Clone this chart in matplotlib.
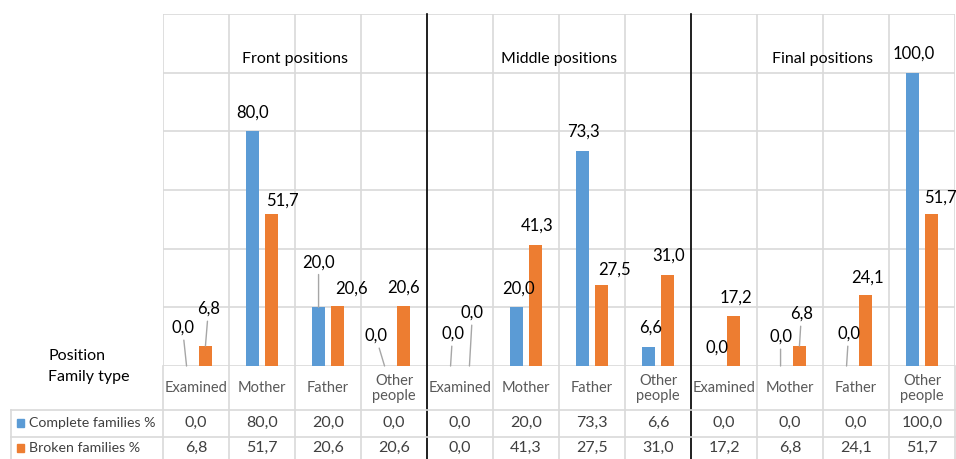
import matplotlib.pyplot as plt
from matplotlib.transforms import blended_transform_factory

plt.rcParams['font.family'] = ['Lato', 'DejaVu Sans']

# data
categories = ['Examined', 'Mother', 'Father', 'Other\npeople'] * 3
groups = ['Front positions', 'Middle positions', 'Final positions']
complete = [0.0, 80.0, 20.0, 0.0, 0.0, 20.0, 73.3, 6.6, 0.0, 0.0, 0.0, 100.0]
broken = [6.8, 51.7, 20.6, 20.6, 0.0, 41.3, 27.5, 31.0, 17.2, 6.8, 24.1, 51.7]
series_names = ['Complete families %', 'Broken families %']

BLUE = '#5B9BD5'
ORANGE = '#ED7D31'
GRID = '#D9D9D9'

# label offsets in pixels (dx, dy up), and whether a leader line is drawn
blue_off = [(-4, 38, True), (0, 19, False), (0, 45, True), (-9, 30, True),
            (2, 32, True), (2, 19, False), (1, 19, False), (2, 19, False),
            (2, 18, False), (0, 29, True), (2, 32, True), (1, 19, False)]
orange_off = [(3, 37, True), (11, 14, False), (14, 17, False), (0, 18, False),
              (3, 53, True), (2, 19, False), (13, 16, False), (1, 19, False),
              (2, 18, False), (2, 32, True), (2, 18, False), (9, 17, False)]

W, H = 956, 459
fig = plt.figure(figsize=(W / 100, H / 100), dpi=100)
ax = fig.add_axes([163 / W, 1 - 366 / H, 792 / W, 352 / H])

n = len(categories)
x = list(range(n))
bw = 0.21
off = 0.143
ax.bar([i - off for i in x], complete, bw, color=BLUE, zorder=3)
ax.bar([i + off for i in x], broken, bw, color=ORANGE, zorder=3)

ax.set_xlim(-0.5, n - 0.5)
ax.set_ylim(0, 120)
ax.set_yticks(range(0, 121, 20))
ax.set_xticks([i - 0.5 for i in range(n + 1)])
ax.grid(True, color=GRID, lw=1.2, zorder=0)
ax.tick_params(length=0, labelbottom=False, labelleft=False)
for s in ax.spines.values():
    s.set_visible(False)

def put_labels(vals, shift, offs):
    for i, v in enumerate(vals):
        dx, dy, lead = offs[i]
        ap = None
        if lead:
            ap = dict(arrowstyle='-', color='#A6A6A6', lw=1, shrinkA=1, shrinkB=0)
        ax.annotate(f'{v:.1f}'.replace('.', ','), (i + shift, v),
                    xytext=(dx, dy), textcoords='offset pixels',
                    ha='center', va='center', fontsize=12, color='#000000',
                    arrowprops=ap, annotation_clip=False, zorder=4)

put_labels(complete, -off, blue_off)
put_labels(broken, off, orange_off)

for g, name in enumerate(groups):
    ax.text(g * 4 + 1.5, 104.5, name, ha='center', va='center',
            fontsize=11.5, color='#000000')

# table below the chart
tr = blended_transform_factory(ax.transData, fig.transFigure)
trf = fig.transFigure

def fy(py):
    return 1 - py / H

for k in range(n + 1):
    ax.plot([k - 0.5, k - 0.5], [fy(366), fy(H)], color=GRID, lw=1.2,
            transform=tr, clip_on=False)
for py in (410, 437):
    fig.add_artist(plt.Line2D([11 / W, 1], [fy(py), fy(py)], color=GRID, lw=1.2))
fig.add_artist(plt.Line2D([11 / W, 11 / W], [fy(410), 0], color=GRID, lw=1.2))

for sep in (3.5, 7.5):
    ax.plot([sep, sep], [fy(14), 0], color='#000000', lw=1.2,
            transform=tr, clip_on=False, zorder=5)

for i, c in enumerate(categories):
    ax.text(i, fy(388.5), c, transform=tr, ha='center', va='center',
            fontsize=10.5, color='#595959', linespacing=1.1)
    ax.text(i, fy(423), f'{complete[i]:.1f}'.replace('.', ','), transform=tr,
            ha='center', va='center', fontsize=11.5, color='#404040')
    ax.text(i, fy(448), f'{broken[i]:.1f}'.replace('.', ','), transform=tr,
            ha='center', va='center', fontsize=11.5, color='#404040')

fig.text(48 / W, fy(356), 'Position', ha='left', va='center', fontsize=11.5)
fig.text(48 / W, fy(377), 'Family type', ha='left', va='center', fontsize=11.5)

for py, col, name in ((423, BLUE, series_names[0]), (448, ORANGE, series_names[1])):
    fig.add_artist(plt.Rectangle((17 / W, fy(py + 4)), 7 / W, 8 / H,
                                 color=col, transform=trf))
    fig.text(29 / W, fy(py), name, ha='left', va='center', fontsize=10.2,
             color='#404040')

fig.savefig('out.png', dpi=100)
